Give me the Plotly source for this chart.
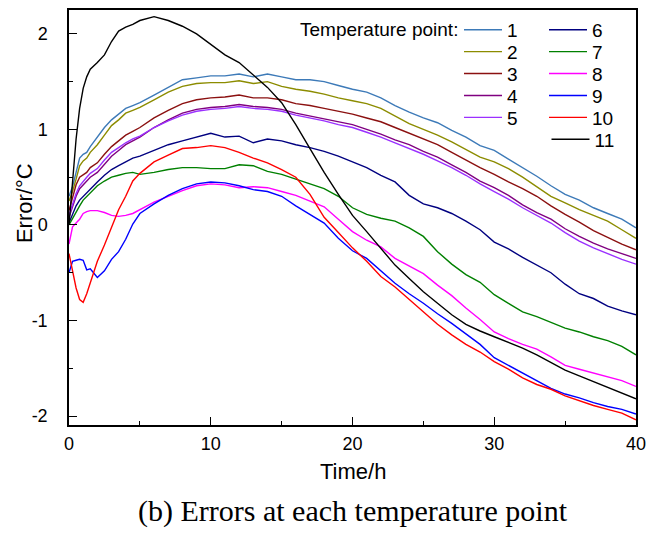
import plotly.graph_objects as go

time_h = [0, 0.25, 0.5, 0.75, 1, 1.25, 1.5, 2, 2.5, 3, 3.5, 4, 4.5, 5, 6, 7, 8, 9, 10,
          11, 12, 13, 14, 15, 16, 17, 18, 19, 20, 21, 22, 23, 24, 25, 26, 27, 28, 29, 30,
          31, 32, 33, 34, 35, 36, 37, 38, 39, 40]

p1 = [0.30, 0.40, 0.55, 0.70, 0.74, 0.76, 0.82, 0.92, 1.02, 1.10, 1.16, 1.22, 1.25, 1.28, 1.36, 1.44, 1.52, 1.54, 1.56,
      1.56, 1.58, 1.55, 1.58, 1.55, 1.52, 1.52, 1.50, 1.46, 1.42, 1.39, 1.33, 1.25, 1.18, 1.12, 1.07, 0.99, 0.92, 0.83, 0.78,
      0.69, 0.60, 0.51, 0.41, 0.32, 0.26, 0.18, 0.12, 0.06, -0.03]
p2 = [0.25, 0.35, 0.48, 0.62, 0.67, 0.70, 0.76, 0.84, 0.94, 1.04, 1.10, 1.17, 1.20, 1.23, 1.31, 1.39, 1.45, 1.48, 1.49,
      1.49, 1.51, 1.48, 1.50, 1.45, 1.42, 1.40, 1.37, 1.33, 1.30, 1.27, 1.22, 1.14, 1.06, 1.00, 0.94, 0.87, 0.79, 0.71, 0.66,
      0.59, 0.50, 0.40, 0.30, 0.23, 0.16, 0.10, 0.04, -0.05, -0.14]
p3 = [0.15, 0.30, 0.42, 0.50, 0.53, 0.55, 0.60, 0.65, 0.74, 0.82, 0.88, 0.94, 0.98, 1.02, 1.12, 1.20, 1.27, 1.31, 1.33,
      1.34, 1.36, 1.33, 1.33, 1.31, 1.27, 1.25, 1.22, 1.19, 1.16, 1.12, 1.08, 1.02, 0.96, 0.90, 0.84, 0.76, 0.68, 0.60, 0.53,
      0.45, 0.38, 0.30, 0.20, 0.11, 0.03, -0.06, -0.13, -0.20, -0.26]
p4 = [0.08, 0.20, 0.30, 0.38, 0.42, 0.46, 0.50, 0.55, 0.64, 0.72, 0.78, 0.84, 0.88, 0.92, 1.02, 1.10, 1.17, 1.21, 1.23,
      1.24, 1.26, 1.24, 1.23, 1.21, 1.17, 1.14, 1.11, 1.08, 1.05, 1.00, 0.95, 0.89, 0.84, 0.77, 0.71, 0.63, 0.55, 0.46, 0.39,
      0.31, 0.21, 0.13, 0.06, -0.04, -0.12, -0.19, -0.25, -0.30, -0.35]
p5 = [0.10, 0.22, 0.33, 0.41, 0.46, 0.50, 0.54, 0.59, 0.68, 0.76, 0.81, 0.86, 0.90, 0.93, 1.02, 1.09, 1.15, 1.19, 1.21,
      1.22, 1.24, 1.22, 1.21, 1.19, 1.15, 1.12, 1.09, 1.05, 1.02, 0.97, 0.92, 0.86, 0.80, 0.74, 0.67, 0.60, 0.52, 0.43, 0.35,
      0.27, 0.18, 0.10, 0.02, -0.08, -0.17, -0.24, -0.30, -0.36, -0.41]
p6 = [0.02, 0.12, 0.20, 0.26, 0.30, 0.34, 0.38, 0.45, 0.52, 0.58, 0.62, 0.66, 0.70, 0.72, 0.78, 0.84, 0.88, 0.92, 0.96,
      0.92, 0.93, 0.86, 0.90, 0.88, 0.84, 0.81, 0.77, 0.72, 0.66, 0.60, 0.52, 0.45, 0.31, 0.22, 0.18, 0.12, 0.04, -0.05, -0.18,
      -0.25, -0.34, -0.42, -0.50, -0.62, -0.72, -0.77, -0.85, -0.90, -0.94]
p7 = [0.00, 0.07, 0.13, 0.20, 0.26, 0.30, 0.34, 0.41, 0.46, 0.50, 0.52, 0.54, 0.55, 0.53, 0.55, 0.58, 0.60, 0.60, 0.59,
      0.59, 0.63, 0.62, 0.56, 0.53, 0.48, 0.43, 0.38, 0.30, 0.18, 0.11, 0.07, 0.04, -0.03, -0.12, -0.28, -0.41, -0.52, -0.60, -0.73,
      -0.82, -0.91, -0.96, -1.02, -1.08, -1.12, -1.17, -1.21, -1.27, -1.36]
p8 = [-0.20, -0.02, 0.02, 0.06, 0.12, 0.14, 0.15, 0.15, 0.13, 0.10, 0.09, 0.10, 0.12, 0.16, 0.24, 0.30, 0.36, 0.41, 0.43,
      0.42, 0.39, 0.40, 0.39, 0.35, 0.31, 0.25, 0.19, 0.06, -0.07, -0.16, -0.23, -0.35, -0.43, -0.51, -0.63, -0.74, -0.87, -0.99, -1.12,
      -1.19, -1.25, -1.30, -1.38, -1.47, -1.51, -1.55, -1.59, -1.63, -1.69]
p9 = [-0.50, -0.38, -0.37, -0.36, -0.37, -0.47, -0.46, -0.55, -0.48, -0.36, -0.28, -0.15, 0.01, 0.12, 0.22, 0.31, 0.38, 0.43, 0.45,
      0.44, 0.41, 0.37, 0.35, 0.30, 0.20, 0.11, 0.02, -0.14, -0.27, -0.35, -0.48, -0.61, -0.72, -0.82, -0.93, -1.03, -1.14, -1.25, -1.39,
      -1.47, -1.55, -1.63, -1.71, -1.77, -1.81, -1.86, -1.90, -1.93, -1.98]
p10 = [-0.30, -0.50, -0.66, -0.78, -0.81, -0.72, -0.61, -0.38, -0.21, -0.02, 0.16, 0.30, 0.46, 0.54, 0.66, 0.73, 0.80, 0.81, 0.83,
       0.81, 0.76, 0.70, 0.65, 0.58, 0.50, 0.32, 0.08, -0.08, -0.24, -0.38, -0.54, -0.65, -0.78, -0.91, -1.04, -1.15, -1.25, -1.33, -1.43,
       -1.51, -1.60, -1.67, -1.72, -1.79, -1.84, -1.89, -1.93, -1.97, -2.04]
p11 = [0.00, 0.45, 0.90, 1.22, 1.43, 1.55, 1.63, 1.70, 1.78, 1.92, 2.03, 2.07, 2.10, 2.14, 2.18, 2.14, 2.08, 2.00, 1.89,
       1.78, 1.70, 1.57, 1.44, 1.28, 1.05, 0.80, 0.55, 0.32, 0.10, -0.07, -0.24, -0.42, -0.56, -0.70, -0.82, -0.94, -1.04, -1.11, -1.17,
       -1.23, -1.29, -1.36, -1.44, -1.52, -1.58, -1.64, -1.70, -1.76, -1.82]

series_names = ["1", "2", "3", "4", "5", "6", "7", "8", "9", "10", "11"]
series_values = [p1, p2, p3, p4, p5, p6, p7, p8, p9, p10, p11]
colors = ["#3d7ab8", "#8c8c00", "#8b1010", "#800080", "#9b30ff", "#000080",
          "#008000", "#ff00ff", "#0000ff", "#ff0000", "#000000"]
# legend row for each series (column 1 holds 1-5, column 2 holds 6-11)
legend_rows = [1, 2, 3, 4, 5, 1, 2, 3, 4, 5, 6]

x_ticks = [0, 10, 20, 30, 40]
x_ticktext = ["0", "10", "20", "30", "40"]
y_ticks = [-2, -1, 0, 1, 2]
y_ticktext = ["-2", "-1", "0", "1", "2"]

FONT = "Liberation Sans, Arial, sans-serif"
W, H = 649, 525
ML, MR, MT, MB = 61, 21, 0, 108
PW, PH = W - ML - MR, H - MT - MB

fig = go.Figure()
for name, vals, col, row in zip(series_names, series_values, colors, legend_rows):
    fig.add_trace(go.Scatter(
        x=time_h, y=vals, mode="lines", name=name,
        line=dict(color=col, width=1.4),
        legend="legend" if row == 1 else f"legend{row}",
    ))

axis_common = dict(
    showline=True, linecolor="black", linewidth=1.5, mirror=True,
    ticks="inside", ticklen=8, tickwidth=1.3, tickcolor="black",
    showgrid=False, zeroline=False,
    tickfont=dict(family=FONT, size=18, color="black"),
)

legend_layout = {}
col1_left = 451  # px in figure coords
row_y0, row_step = 20, 22
for r in range(1, 7):
    key = "legend" if r == 1 else f"legend{r}"
    x_px = col1_left if r < 6 else col1_left + 87.5
    legend_layout[key] = dict(
        orientation="h", x=(x_px - ML) / PW, y=1 - (row_y0 + (r - 1) * row_step) / PH,
        xanchor="left", yanchor="middle", bgcolor="rgba(0,0,0,0)",
        font=dict(family=FONT, size=19, color="black"),
        entrywidthmode="pixels", entrywidth=32, itemwidth=38,
    )

fig.update_layout(
    width=W, height=H,
    margin=dict(l=ML, r=MR, t=MT, b=MB),
    paper_bgcolor="white", plot_bgcolor="white",
    xaxis=dict(range=[0, 40], tickmode="array", tickvals=x_ticks, ticktext=x_ticktext,
               ticklabelstandoff=2,
               minor=dict(dtick=5, ticks="inside", ticklen=4, tickwidth=1.3, tickcolor="black"),
               **axis_common),
    yaxis=dict(range=[-2.094, 2.25], tickmode="array", tickvals=y_ticks, ticktext=y_ticktext,
               ticklabelstandoff=16,
               minor=dict(dtick=0.5, ticks="inside", ticklen=4, tickwidth=1.3, tickcolor="black"),
               **axis_common),
    showlegend=True,
    **legend_layout,
)

fig.add_annotation(text="Temperature point:", xref="paper", yref="paper",
                   x=(452 - ML) / PW, y=1 - row_y0 / PH, xanchor="right", yanchor="middle",
                   showarrow=False, font=dict(family=FONT, size=19, color="black"))
fig.add_annotation(text="Error/°C", xref="paper", yref="paper", textangle=-90,
                   x=(16 - ML) / PW, y=1 - 194 / PH, xanchor="center", yanchor="middle",
                   showarrow=False, font=dict(family=FONT, size=22, color="black"))
fig.add_annotation(text="Time/h", xref="paper", yref="paper",
                   x=0.5, y=1 - 464 / PH, xanchor="center", yanchor="middle",
                   showarrow=False, font=dict(family=FONT, size=22, color="black"))
fig.add_annotation(text="(b) Errors at each temperature point", xref="paper", yref="paper",
                   x=0.5, y=1 - 503 / PH, xanchor="center", yanchor="middle", showarrow=False,
                   font=dict(family="Liberation Serif, Times New Roman, serif", size=30, color="black"))

fig.write_html("out.html")
